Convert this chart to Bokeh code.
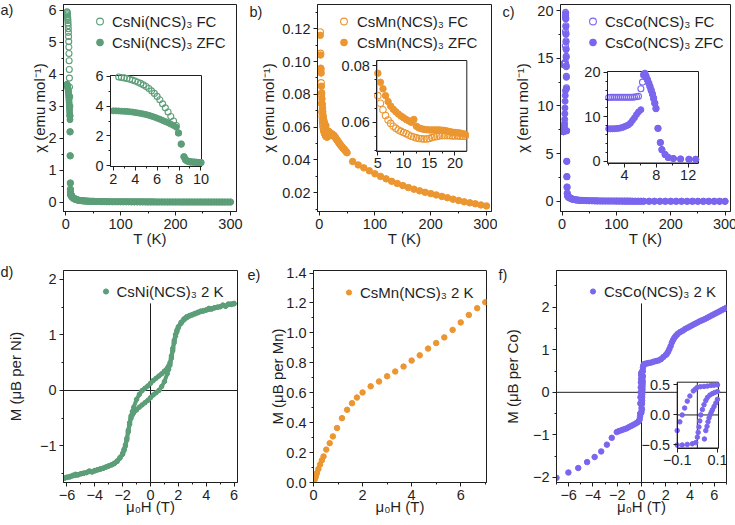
from bokeh.plotting import figure
from bokeh.models import (Range1d, LinearAxis, SingleIntervalTicker, FixedTicker,
                          Legend, LegendItem, Label, Span, PrintfTickFormatter)
from bokeh.layouts import column, row
from bokeh.embed import file_html
from bokeh.resources import INLINE

FONT = "Liberation Sans"
INK = "#1f1f1f"
GREEN, ORANGE, PURPLE = "#5c9e78", "#eb9630", "#7a66ee"
TICK_FS, LAB_FS, LEG_FS = "14.5px", "15px", "15px"

# ---------------- a) CsNi(NCS)3 : chi(T) ----------------
ni_fc_T = [2.5, 2.75, 3.0, 3.25, 3.5, 3.75, 4.0, 4.25, 4.5, 4.75, 5.0,
           5.25, 5.5, 5.75, 6.0, 6.25, 6.5, 6.75, 7.0, 7.25, 7.5, 7.75]
ni_fc_chi = [5.95, 5.92, 5.89, 5.85, 5.80, 5.74, 5.68, 5.60, 5.52, 5.42, 5.31,
             5.18, 5.02, 4.85, 4.65, 4.42, 4.15, 3.88, 3.60, 3.30, 3.00, 2.70]
ni_zfc_T = [2.0, 2.25, 2.5, 2.75, 3.0, 3.25, 3.5, 3.75, 4.0, 4.25, 4.5, 4.75,
            5.0, 5.25, 5.5, 5.75, 6.0, 6.25, 6.5, 6.75, 7.0, 7.25, 7.5, 7.75]
ni_zfc_chi = [3.68, 3.68, 3.67, 3.66, 3.65, 3.64, 3.62, 3.60, 3.57, 3.54, 3.51, 3.47,
              3.43, 3.38, 3.32, 3.26, 3.19, 3.12, 3.04, 2.96, 2.88, 2.79, 2.70, 2.58]
ni_tail_T = [7.95, 8.2, 8.45, 8.6, 8.75, 8.9, 9.05, 9.2, 9.4, 9.6, 9.8, 10.0,
             11, 12, 13, 14, 15, 16, 17, 18, 19, 20,
             22, 24, 26, 28, 30, 33, 36, 39, 42, 45, 48, 51, 55,
             60, 65, 70, 75, 80, 85, 90, 95, 100,
             105, 110, 115, 120, 125, 130, 135, 140, 145, 150,
             155, 160, 165, 170, 175, 180, 185, 190, 195, 200,
             205, 210, 215, 220, 225, 230, 235, 240, 245, 250,
             255, 260, 265, 270, 275, 280, 285, 290, 295, 300]
ni_tail_chi = [2.20, 1.45, 0.60, 0.40, 0.32, 0.28, 0.26, 0.25, 0.24, 0.23, 0.22, 0.21,
               0.18, 0.16, 0.145, 0.13, 0.12, 0.11, 0.10, 0.092, 0.085, 0.079,
               0.070, 0.062, 0.056, 0.051, 0.047, 0.042, 0.038, 0.035, 0.032, 0.030, 0.028, 0.026, 0.024,
               0.022, 0.020, 0.019, 0.018, 0.017, 0.016, 0.015, 0.015, 0.014,
               0.014, 0.013, 0.013, 0.012, 0.012, 0.012, 0.011, 0.011, 0.011, 0.010,
               0.010, 0.010, 0.009, 0.009, 0.009, 0.009, 0.008, 0.008, 0.008, 0.008,
               0.008, 0.007, 0.007, 0.007, 0.007, 0.007, 0.007, 0.006, 0.006, 0.006,
               0.006, 0.006, 0.006, 0.006, 0.005, 0.005, 0.005, 0.005, 0.005, 0.005]

# ---------------- b) CsMn(NCS)3 : chi(T) ----------------
mn_fc_T = [2.0, 2.5, 3.0, 3.5, 4.0, 4.5, 5.0, 5.5, 6.0, 6.5,
           7.0, 7.5, 8.0, 8.5, 9.0, 9.5, 10.0, 10.5, 11.0, 11.5,
           12.0, 12.5, 13.0, 13.5, 14.0, 14.5, 15.0, 15.5, 16.0, 16.5,
           17.0, 17.5, 18.0, 18.5, 19.0, 19.5, 20.0, 20.5, 21.0, 21.5, 22.0]
mn_fc_chi = [0.1180, 0.1050, 0.0950, 0.0870, 0.0800, 0.0745, 0.0694, 0.0667, 0.0644, 0.0624,
             0.0608, 0.0596, 0.0586, 0.0579, 0.0573, 0.0568, 0.0564, 0.0560, 0.0555, 0.0551,
             0.0548, 0.0545, 0.0543, 0.0542, 0.0541, 0.0541, 0.0543, 0.0546, 0.0548, 0.0550,
             0.0552, 0.0553, 0.0553, 0.0553, 0.0553, 0.0552, 0.0552, 0.0552, 0.0551, 0.0551, 0.0551]
mn_zfc_T = [2.0, 2.5, 3.0, 3.5, 4.0, 4.5, 5.0, 5.5, 6.0, 6.5,
            7.0, 7.5, 8.0, 8.5, 9.0, 9.5, 10.0, 10.5, 11.0, 11.5,
            12.0, 12.5, 13.0, 13.5, 14.0, 14.5, 15.0, 15.5, 16.0, 16.5,
            17.0, 17.5, 18.0, 18.5, 19.0, 19.5, 20.0, 20.5, 21.0, 21.5, 22.0,
            23, 24, 25, 26, 27, 28, 29, 30, 31, 32, 33, 34, 35, 36,
            37, 38, 39, 40, 41, 42, 43, 44, 45, 46, 47, 48, 49, 50,
            60, 70, 80, 90, 100, 110, 120, 130, 140, 150, 160, 170, 180,
            190, 200, 210, 220, 230, 240, 250, 260, 270, 280, 290, 300]
mn_zfc_chi = [0.1160, 0.1040, 0.0960, 0.0930, 0.0850, 0.0810, 0.0773, 0.0741, 0.0718, 0.0694,
              0.0673, 0.0657, 0.0646, 0.0637, 0.0629, 0.0622, 0.0616, 0.0610, 0.0605, 0.0600,
              0.0610, 0.0586, 0.0580, 0.0577, 0.0575, 0.0574, 0.0573, 0.0573, 0.0573, 0.0573,
              0.0573, 0.0572, 0.0571, 0.0569, 0.0567, 0.0565, 0.0564, 0.0563, 0.0562, 0.0560, 0.0558,
              0.0557, 0.0556, 0.0554, 0.0551, 0.0547, 0.0542, 0.0537, 0.0532, 0.0527, 0.0522,
              0.0517, 0.0512, 0.0507, 0.0502, 0.0497, 0.0493, 0.0488, 0.0484, 0.0480, 0.0476,
              0.0472, 0.0468, 0.0464, 0.0460, 0.0456, 0.0452, 0.0448, 0.0444,
              0.0391, 0.0370, 0.0352, 0.0334, 0.0316, 0.0300, 0.0285, 0.0270, 0.0257, 0.0244,
              0.0232, 0.0222, 0.0212, 0.0203, 0.0195, 0.0187, 0.0178, 0.0170, 0.0161, 0.0153,
              0.0145, 0.0139, 0.0133, 0.0126, 0.0120]

# ---------------- c) CsCo(NCS)3 : chi(T) ----------------
co_fc_T = [2.0, 2.25, 2.5, 2.75, 3.0, 3.25, 3.5, 3.75, 4.0, 4.25, 4.5, 4.75,
           5.0, 5.25, 5.5, 5.75, 6.05, 6.25, 6.4, 6.55, 6.7, 6.87, 7.05, 7.2,
           7.35, 7.5, 7.65, 7.8, 7.95]
co_fc_chi = [14.35, 14.4, 14.4, 14.4, 14.4, 14.4, 14.4, 14.4, 14.4, 14.4, 14.4, 14.4,
             14.4, 14.45, 14.5, 14.6, 16.3, 17.8, 19.5, 19.8, 19.2, 18.4, 17.6, 16.8,
             16.0, 15.2, 14.2, 13.1, 11.9]
co_zfc_T = [2.0, 2.25, 2.5, 2.75, 3.0, 3.25, 3.5, 3.75, 4.0, 4.25, 4.5, 4.75,
            5.0, 5.25, 5.5, 5.75, 6.05, 6.4, 6.55, 6.7, 6.87, 7.05, 7.2, 7.35,
            7.5, 7.65, 7.8, 7.95]
co_zfc_chi = [7.30, 7.30, 7.30, 7.32, 7.35, 7.40, 7.50, 7.62, 7.80, 8.00, 8.20, 8.60,
              9.20, 9.80, 10.5, 11.1, 11.6, 19.3, 19.7, 19.1, 18.3, 17.5, 16.7, 15.9,
              15.1, 14.1, 13.0, 11.8]
co_tail_T = [8.2, 8.5, 8.7, 9.1, 9.5, 10.15, 11.05, 12.1, 12.95,
             14, 16, 18, 20, 22, 25, 28, 31,
             35, 40, 45, 50, 55, 60, 65, 70, 75, 80, 85, 90,
             95, 100, 105, 110, 115, 120, 125, 130, 135, 140, 145, 150,
             160, 170, 180, 190, 200, 210, 220, 230, 240, 250, 260, 270, 280, 290, 300]
co_tail_chi = [7.4, 4.2, 2.6, 1.5, 0.85, 0.6, 0.5, 0.45, 0.42,
               0.38, 0.32, 0.27, 0.23, 0.2, 0.17, 0.15, 0.13,
               0.115, 0.1, 0.09, 0.08, 0.072, 0.066, 0.061, 0.057, 0.053, 0.05, 0.047, 0.045,
               0.042, 0.04, 0.038, 0.037, 0.035, 0.034, 0.033, 0.031, 0.03, 0.029, 0.028, 0.027,
               0.026, 0.024, 0.023, 0.022, 0.021, 0.02, 0.019, 0.018, 0.018, 0.017, 0.016, 0.016,
               0.015, 0.015, 0.014]

# ---------------- d) CsNi(NCS)3 : M(H) at 2 K ----------------
ni_H_dn = [6.0, 5.8, 5.6, 5.4, 5.2, 5.0, 4.8, 4.6, 4.4, 4.2, 4.0, 3.8, 3.6, 3.4, 3.2,
           3.0, 2.8, 2.6, 2.4, 2.2, 2.0,
           1.9, 1.8, 1.7, 1.6, 1.5, 1.4, 1.3, 1.2,
           1.0, 0.8, 0.6, 0.4, 0.2, 0.0, -0.2, -0.4, -0.6, -0.8, -1.0,
           -1.2, -1.3, -1.4, -1.5, -1.6, -1.7, -1.8, -1.9,
           -2.0, -2.2, -2.4, -2.6, -2.8, -3.0, -3.2, -3.4, -3.6, -3.8, -4.0,
           -4.2, -4.4, -4.6, -4.8, -5.0, -5.2, -5.4, -5.6, -5.8, -6.0, -6.2]
ni_M_dn = [1.57, 1.55, 1.56, 1.52, 1.54, 1.51, 1.50, 1.49, 1.47, 1.48, 1.45, 1.44, 1.43, 1.41, 1.39,
           1.37, 1.35, 1.33, 1.29, 1.23, 1.15,
           1.09, 1.01, 0.90, 0.76, 0.62, 0.50, 0.44, 0.40,
           0.35, 0.30, 0.26, 0.22, 0.18, 0.13, 0.08, 0.04, 0.00, -0.07, -0.16,
           -0.30, -0.38, -0.46, -0.58, -0.72, -0.86, -0.98, -1.06,
           -1.13, -1.21, -1.27, -1.31, -1.34, -1.36, -1.38, -1.40, -1.41, -1.43, -1.44,
           -1.46, -1.45, -1.48, -1.49, -1.50, -1.52, -1.51, -1.54, -1.55, -1.57, -1.58]
ni_H_up = [-6.2, -6.0, -5.8, -5.6, -5.4, -5.2, -5.0, -4.8, -4.6, -4.4, -4.2,
           -4.0, -3.8, -3.6, -3.4, -3.2, -3.0, -2.8, -2.6, -2.4, -2.2, -2.0,
           -1.9, -1.8, -1.7, -1.6, -1.5, -1.4, -1.3, -1.2,
           -1.0, -0.8, -0.6, -0.4, -0.2, 0.0, 0.2, 0.4, 0.6, 0.8, 1.0,
           1.2, 1.3, 1.4, 1.5, 1.6, 1.7, 1.8, 1.9,
           2.0, 2.2, 2.4, 2.6, 2.8, 3.0, 3.2, 3.4, 3.6, 3.8, 4.0,
           4.2, 4.4, 4.6, 4.8, 5.0, 5.2, 5.4, 5.6, 5.8, 6.0]
ni_M_up = [-1.58, -1.56, -1.56, -1.53, -1.53, -1.52, -1.50, -1.49, -1.48, -1.46, -1.47,
           -1.45, -1.43, -1.42, -1.40, -1.38, -1.36, -1.34, -1.32, -1.28, -1.22, -1.15,
           -1.08, -1.00, -0.89, -0.75, -0.61, -0.50, -0.44, -0.40,
           -0.35, -0.30, -0.26, -0.22, -0.18, -0.13, -0.08, -0.04, 0.00, 0.07, 0.16,
           0.30, 0.38, 0.46, 0.58, 0.72, 0.86, 0.98, 1.06,
           1.13, 1.21, 1.27, 1.31, 1.34, 1.36, 1.38, 1.40, 1.42, 1.43, 1.45,
           1.46, 1.47, 1.49, 1.50, 1.51, 1.53, 1.52, 1.55, 1.56, 1.56]

# ---------------- e) CsMn(NCS)3 : M(H) at 2 K ----------------
mn_H = [0.0, 0.02, 0.04, 0.06, 0.08, 0.1, 0.14, 0.2, 0.27, 0.34, 0.41, 0.52, 0.66, 0.79,
        0.96, 1.16, 1.37, 1.57, 1.77, 2.0, 2.33, 2.67, 3.0, 3.33, 3.67, 4.0, 4.33, 4.67,
        5.0, 5.33, 5.67, 6.0, 6.33, 6.67, 7.0]
mn_M = [0.0, 0.009, 0.018, 0.027, 0.036, 0.045, 0.063, 0.09, 0.12, 0.148, 0.174, 0.22, 0.263, 0.308,
        0.364, 0.43, 0.486, 0.53, 0.568, 0.602, 0.643, 0.675, 0.71, 0.742, 0.775, 0.815, 0.85, 0.895,
        0.932, 0.97, 1.02, 1.07, 1.12, 1.165, 1.205]

# ---------------- f) CsCo(NCS)3 : M(H) at 2 K ----------------
co_H_neg = [-7.0, -6.02, -5.21, -4.48, -3.86, -3.32, -2.85, -2.45, -2.04, -1.85, -1.65,
            -1.45, -1.25, -1.05, -0.85, -0.65, -0.45, -0.3, -0.2, -0.15, -0.12]
co_M_neg = [-2.01, -1.885, -1.78, -1.64, -1.52, -1.39, -1.23, -1.07, -0.935, -0.91, -0.89,
            -0.87, -0.85, -0.82, -0.79, -0.76, -0.73, -0.70, -0.67, -0.63, -0.57]
co_H_pos = [0.12, 0.15, 0.2, 0.3, 0.45, 0.6, 0.8, 1.0, 1.2, 1.4, 1.6, 1.8, 2.0, 2.1, 2.2,
            2.3, 2.4, 2.5, 2.6, 2.7, 2.8, 2.9, 3.0, 3.2, 3.4, 3.6, 3.8, 4.0, 4.2, 4.4, 4.6,
            4.8, 5.0, 5.2, 5.4, 5.6, 5.8, 6.0, 6.2, 6.4, 6.6, 6.8, 7.0]
co_M_pos = [0.58, 0.63, 0.66, 0.67, 0.68, 0.69, 0.70, 0.72, 0.735, 0.75, 0.78, 0.83, 0.88, 0.91, 0.96,
            1.02, 1.09, 1.17, 1.23, 1.28, 1.32, 1.35, 1.38, 1.42, 1.45, 1.49, 1.52, 1.55, 1.58, 1.61, 1.64,
            1.67, 1.695, 1.72, 1.75, 1.78, 1.81, 1.84, 1.87, 1.90, 1.93, 1.96, 1.99]
co_loopA_H = [-0.1, -0.087, -0.075, -0.063, -0.05, -0.037, -0.02, -0.01, 0.0, 0.015, 0.033,
              0.05, 0.067, 0.083, 0.1]
co_loopA_M = [-0.26, -0.115, 0.0, 0.115, 0.23, 0.315, 0.4, 0.43, 0.46, 0.47, 0.475,
              0.48, 0.49, 0.495, 0.5]
co_loopB_H = [-0.1, -0.075, -0.05, -0.025, -0.008, 0.0, 0.004, 0.008, 0.012, 0.017, 0.025,
              0.033, 0.042, 0.05, 0.062, 0.075, 0.087, 0.1]
co_loopB_M = [-0.5, -0.5, -0.49, -0.48, -0.46, -0.37, -0.29, -0.2, -0.1, 0.0, 0.09,
              0.17, 0.24, 0.29, 0.33, 0.355, 0.375, 0.39]
co_loopC_H = [0.035, 0.042, 0.048, 0.053, 0.058, 0.063, 0.069, 0.075, 0.083, 0.092, 0.1]
co_loopC_M = [-0.4, -0.26, -0.19, -0.115, -0.05, 0.0, 0.045, 0.086, 0.14, 0.2, 0.26]

PANEL_LETTERS = ["a)", "b)", "c)", "d)", "e)", "f)"]


# ---------------- helpers ----------------
def style_axis(ax, label_standoff=None):
    ax.axis_line_color = INK
    ax.major_tick_line_color = INK
    ax.minor_tick_line_color = INK
    ax.major_tick_in, ax.major_tick_out = 0, 4
    ax.minor_tick_in, ax.minor_tick_out = 0, 2
    ax.major_label_standoff = 3
    ax.major_label_text_font = FONT
    ax.major_label_text_font_size = TICK_FS
    ax.major_label_text_color = INK
    ax.axis_label_text_font = FONT
    ax.axis_label_text_font_size = LAB_FS
    ax.axis_label_text_font_style = "normal"
    ax.axis_label_text_color = INK
    if label_standoff is not None:
        ax.axis_label_standoff = label_standoff


def make_panel(xr, yr, fw, fh, borders, xtick, ytick, xlabel, ylabel, xls, yls,
               xover=None, yover=None, yfmt=None):
    bl, br, bt, bb = borders
    p = figure(x_range=Range1d(*xr), y_range=Range1d(*yr), frame_width=fw, frame_height=fh,
               min_border_left=bl, min_border_right=br, min_border_top=bt, min_border_bottom=bb,
               output_backend="svg", toolbar_location=None, tools="", title=None)
    p.xgrid.visible = False
    p.ygrid.visible = False
    p.outline_line_color = INK
    p.background_fill_color = "white"
    p.border_fill_color = "white"
    xa, ya = p.xaxis[0], p.yaxis[0]
    xa.ticker, ya.ticker = xtick, ytick
    xa.axis_label, ya.axis_label = xlabel, ylabel
    style_axis(xa, xls)
    style_axis(ya, yls)
    if yfmt:
        ya.formatter = PrintfTickFormatter(format=yfmt)
    if xover:
        xa.major_label_overrides = xover
    if yover:
        ya.major_label_overrides = yover
    return p


def add_inset(p, fw, fh, box, xr, yr, xtick, ytick, xover=None, yover=None, fmt=None):
    l, r, t, b = box
    x0, x1 = xr
    y0, y1 = yr
    sx = (x1 - x0) / (r - l)
    sy = (y1 - y0) / (b - t)
    p.extra_x_ranges = {"ix": Range1d(x0 - l * sx, x1 + (fw - r) * sx)}
    p.extra_y_ranges = {"iy": Range1d(y0 - (fh - b) * sy, y1 + t * sy)}
    p.quad(left=[x0], right=[x1], bottom=[y0], top=[y1], x_range_name="ix", y_range_name="iy",
           fill_color="white", line_color=INK, line_width=1)
    xa = LinearAxis(x_range_name="ix", y_range_name="iy", fixed_location=y0, bounds=(x0, x1), ticker=xtick)
    ya = LinearAxis(x_range_name="ix", y_range_name="iy", fixed_location=x0, bounds=(y0, y1), ticker=ytick)
    style_axis(xa)
    style_axis(ya)
    if fmt:
        xa.formatter = PrintfTickFormatter(format=fmt)
        ya.formatter = PrintfTickFormatter(format=fmt)
    if xover:
        xa.major_label_overrides = xover
    if yover:
        ya.major_label_overrides = yover
    p.add_layout(xa, "below")
    p.add_layout(ya, "left")


def within(xs, ys, xr, yr):
    pts = [(x, y) for x, y in zip(xs, ys) if xr[0] <= x <= xr[1] and yr[0] <= y <= yr[1]]
    return [q[0] for q in pts], [q[1] for q in pts]


def add_legend(p, items, loc, gw, standoff):
    leg = Legend(items=items, location=loc, orientation="vertical", padding=0, margin=0, spacing=3,
                 glyph_width=gw, glyph_height=18, label_height=18, label_standoff=standoff,
                 label_text_font=FONT, label_text_font_size=LEG_FS, label_text_color=INK,
                 border_line_alpha=0, background_fill_alpha=0)
    p.add_layout(leg)


def letter(p, txt, xr, yr, dx, dy, side):
    # a label kept in a side panel is not clipped to the plot frame
    p.add_layout(Label(x=xr[0], y=yr[1], x_offset=dx, y_offset=dy, text=txt, text_font=FONT,
                       text_font_size="14.5px", text_color=INK, text_baseline="top",
                       text_align="left"), side)


def sit(interval, minor):
    return SingleIntervalTicker(interval=interval, num_minor_ticks=minor)


T_LAB = "T (K)"
CHI_LAB = "χ (emu mol⁻¹)"
H_LAB = "μ₀H (T)"

# ---------------- panel a ----------------
A_X, A_Y = (-4, 311), (-0.29, 6.18)
pa = make_panel(A_X, A_Y, 173, 207, (63, 8, 4, 41), sit(100, 2), sit(1, 2), T_LAB, CHI_LAB, -2, -3)
ni_FC_T, ni_FC_chi = ni_fc_T + ni_tail_T, ni_fc_chi + ni_tail_chi
ni_ZFC_T, ni_ZFC_chi = ni_zfc_T + ni_tail_T, ni_zfc_chi + ni_tail_chi
ra_z = pa.scatter(ni_ZFC_T, ni_ZFC_chi, marker="circle", size=6, fill_color=GREEN, line_color=GREEN)
ra_f = pa.scatter(ni_FC_T, ni_FC_chi, marker="circle", size=6, fill_color=None, line_color=GREEN, line_width=1.1)
AI_X, AI_Y = (1.75, 10.05), (-0.05, 6.05)
add_inset(pa, 173, 207, (47, 138, 71, 162), AI_X, AI_Y, sit(2, 2), sit(2, 2))
x, y = within(ni_ZFC_T, ni_ZFC_chi, AI_X, AI_Y)
pa.scatter(x, y, x_range_name="ix", y_range_name="iy", marker="circle", size=6, fill_color=GREEN, line_color=GREEN)
x, y = within(ni_FC_T, ni_FC_chi, AI_X, AI_Y)
pa.scatter(x, y, x_range_name="ix", y_range_name="iy", marker="circle", size=6, fill_color=None,
           line_color=GREEN, line_width=1.1)
add_legend(pa, [LegendItem(label="CsNi(NCS)₃ FC", renderers=[ra_f]),
                LegendItem(label="CsNi(NCS)₃ ZFC", renderers=[ra_z])], (28, 160), 17, 4)
letter(pa, PANEL_LETTERS[0], A_X, A_Y, -63, 3, "left")

# ---------------- panel b ----------------
B_X, B_Y = (-3, 309), (0.0086, 0.1348)
pb = make_panel(B_X, B_Y, 174, 207, (69, 6, 4, 41), sit(100, 2), sit(0.02, 2), T_LAB, CHI_LAB, -2, 2,
                yfmt="%.2f")
rb_f = pb.scatter(mn_fc_T, mn_fc_chi, marker="circle", size=6.5, fill_color=None, line_color=ORANGE, line_width=1.1)
rb_z = pb.scatter(mn_zfc_T, mn_zfc_chi, marker="circle", size=6.5, fill_color=ORANGE, line_color=ORANGE)
BI_X, BI_Y = (4.8, 22.3), (0.0498, 0.0818)
add_inset(pb, 174, 207, (59.3, 149.3, 56, 146.7), BI_X, BI_Y, sit(5, 2), sit(0.02, 4))
x, y = within(mn_zfc_T, mn_zfc_chi, BI_X, BI_Y)
pb.scatter(x, y, x_range_name="ix", y_range_name="iy", marker="circle", size=6.5, fill_color=ORANGE, line_color=ORANGE)
x, y = within(mn_fc_T, mn_fc_chi, BI_X, BI_Y)
pb.scatter(x, y, x_range_name="ix", y_range_name="iy", marker="circle", size=6.5, fill_color=None,
           line_color=ORANGE, line_width=1.1)
add_legend(pb, [LegendItem(label="CsMn(NCS)₃ FC", renderers=[rb_f]),
                LegendItem(label="CsMn(NCS)₃ ZFC", renderers=[rb_z])], (18, 160), 17, 5)
letter(pb, PANEL_LETTERS[1], B_X, B_Y, -68, 1, "left")

# ---------------- panel c ----------------
C_X, C_Y = (-3, 310), (-1.05, 20.63)
pc = make_panel(C_X, C_Y, 170, 207, (63, 9, 4, 41), sit(100, 2), sit(5, 2), T_LAB, CHI_LAB, -2, 3)
co_FC_T, co_FC_chi = co_fc_T + co_tail_T, co_fc_chi + co_tail_chi
co_ZFC_T, co_ZFC_chi = co_zfc_T + co_tail_T, co_zfc_chi + co_tail_chi
rc_f = pc.scatter(co_FC_T, co_FC_chi, marker="circle", size=6, fill_color=None, line_color=PURPLE, line_width=1.1)
rc_z = pc.scatter(co_ZFC_T, co_ZFC_chi, marker="circle", size=6, fill_color=PURPLE, line_color=PURPLE)
CI_X, CI_Y = (1.85, 13.3), (-0.4, 20.2)
add_inset(pc, 170, 207, (47, 138, 67, 158.5), CI_X, CI_Y, sit(4, 2), sit(10, 5))
x, y = within(co_FC_T, co_FC_chi, CI_X, CI_Y)
pc.scatter(x, y, x_range_name="ix", y_range_name="iy", marker="circle", size=6, fill_color=None,
           line_color=PURPLE, line_width=1.1)
x, y = within(co_ZFC_T, co_ZFC_chi, CI_X, CI_Y)
pc.scatter(x, y, x_range_name="ix", y_range_name="iy", marker="circle", size=6, fill_color=PURPLE, line_color=PURPLE)
add_legend(pc, [LegendItem(label="CsCo(NCS)₃ FC", renderers=[rc_f]),
                LegendItem(label="CsCo(NCS)₃ ZFC", renderers=[rc_z])], (24, 160), 17, 4)
letter(pc, PANEL_LETTERS[2], C_X, C_Y, -58, 1, "left")

# ---------------- panel d ----------------
MINUS_X = {-6: "−6", -4: "−4", -2: "−2"}
D_X, D_Y = (-6.25, 6.25), (-1.658, 2.162)
pd_ = make_panel(D_X, D_Y, 174, 212, (63, 3, 18, 35), sit(2, 2), sit(1, 2), H_LAB, "M (μB per Ni)", -5, 13,
                 xover=MINUS_X, yover={-1: "−1"})
ni_H, ni_M = ni_H_dn + ni_H_up, ni_M_dn + ni_M_up
pd_.add_layout(Span(location=0, dimension="width", line_color=INK, line_width=1, level="underlay"))
pd_.segment(x0=[0], y0=[D_Y[0]], x1=[0], y1=[max(ni_M)], line_color=INK, line_width=1)
pd_.line(ni_H, ni_M, line_color=GREEN, line_width=4)
rd = pd_.scatter(ni_H, ni_M, marker="circle", size=4.5, fill_color=GREEN, line_color=GREEN)
add_legend(pd_, [LegendItem(label="CsNi(NCS)₃ 2 K", renderers=[rd])], (35.5, 182), 13, 5)
letter(pd_, PANEL_LETTERS[3], D_X, D_Y, -63, 7, "above")

# ---------------- panel e ----------------
E_X, E_Y = (0, 7.05), (0, 1.417)
pe = make_panel(E_X, E_Y, 173, 212, (73, 4, 18, 35), sit(2, 2), sit(0.2, 2), H_LAB, "M (μB per Mn)", -5, -3,
                yfmt="%.1f")
re = pe.scatter(mn_H, mn_M, marker="circle", size=5.5, fill_color=ORANGE, line_color=ORANGE)
add_legend(pe, [LegendItem(label="CsMn(NCS)₃ 2 K", renderers=[re])], (29, 180.7), 13, 5)
letter(pe, PANEL_LETTERS[4], E_X, E_Y, -66, 4, "above")

# ---------------- panel f ----------------
F_X, F_Y = (-7.0, 7.0), (-2.12, 2.864)
pf = make_panel(F_X, F_Y, 170, 212, (66, 9, 18, 35), sit(2, 2), sit(1, 2), H_LAB, "M (μB per Co)", -5, 9,
                xover=MINUS_X, yover={-2: "−2", -1: "−1"})
co_H = co_H_neg + co_loopA_H + co_loopB_H + co_loopC_H + co_H_pos
co_M = co_M_neg + co_loopA_M + co_loopB_M + co_loopC_M + co_M_pos
pf.add_layout(Span(location=0, dimension="width", line_color=INK, line_width=1, level="underlay"))
pf.segment(x0=[0], y0=[F_Y[0]], x1=[0], y1=[max(co_M) + 0.1], line_color=INK, line_width=1)
rf = pf.scatter(co_H, co_M, marker="circle", size=5.5, fill_color=PURPLE, line_color=PURPLE)
FI_X, FI_Y = (-0.1, 0.105), (-0.55, 0.545)
add_inset(pf, 170, 212, (120.7, 162, 111.7, 177.5), FI_X, FI_Y,
          FixedTicker(ticks=[-0.1, 0.1]), FixedTicker(ticks=[-0.5, 0.0, 0.5]),
          xover={-0.1: "−0.1"}, yover={-0.5: "−0.5"}, fmt="%.1f")
pf.segment(x0=[0, FI_X[0]], y0=[FI_Y[0], 0], x1=[0, FI_X[1]], y1=[FI_Y[1], 0],
           x_range_name="ix", y_range_name="iy", line_color=INK, line_width=1)
for hh, mm in ((co_loopA_H, co_loopA_M), (co_loopB_H, co_loopB_M), (co_loopC_H, co_loopC_M)):
    x, y = within(hh, mm, FI_X, FI_Y)
    pf.scatter(x, y, x_range_name="ix", y_range_name="iy", marker="circle", size=4.5,
               fill_color=PURPLE, line_color=PURPLE)
add_legend(pf, [LegendItem(label="CsCo(NCS)₃ 2 K", renderers=[rf])], (30, 182), 13, 5)
letter(pf, PANEL_LETTERS[5], F_X, F_Y, -58, 4, "above")

layout = column(row(pa, pb, pc), row(pd_, pe, pf))

open("out.html", "w").write(file_html(layout, INLINE))
